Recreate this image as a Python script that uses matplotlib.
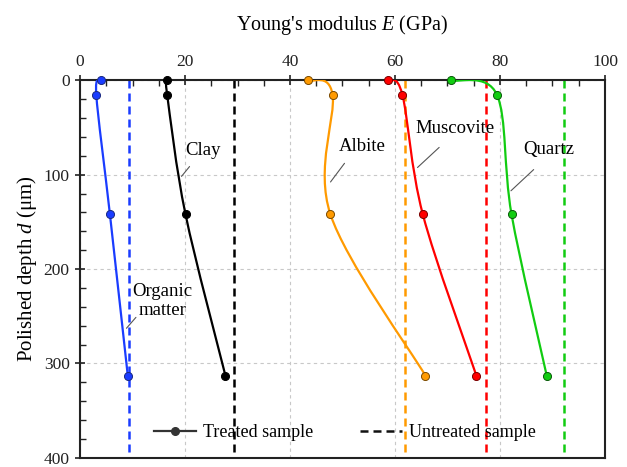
import numpy as np
import matplotlib
matplotlib.use("Agg")
import matplotlib.pyplot as plt
from matplotlib.path import Path
from matplotlib.patches import PathPatch
from matplotlib.lines import Line2D
from matplotlib.ticker import MultipleLocator

plt.rcParams['font.family'] = ['Liberation Serif', 'DejaVu Serif']
plt.rcParams['mathtext.fontset'] = 'custom'
plt.rcParams['mathtext.rm'] = 'Liberation Serif'
plt.rcParams['mathtext.it'] = 'Liberation Serif:italic'

# polished depth (um) of the treated-sample measurements
depth = [0, 15, 142, 313]

minerals = ["Organic matter", "Clay", "Albite", "Muscovite", "Quartz"]
organic = [4.0, 3.1, 5.7, 9.1]
clay = [16.6, 16.6, 20.1, 27.7]
albite = [43.5, 48.1, 47.7, 65.8]
muscovite = [58.7, 61.4, 65.3, 75.5]
quartz = [70.6, 79.4, 82.2, 88.9]
treated = [organic, clay, albite, muscovite, quartz]
untreated = [9.3, 29.3, 62.0, 77.3, 92.1]

colors = ['#1a3cff', '#000000', '#ff9a00', '#ff0000', '#11cc11']
edges = ['#1a2a80', '#000000', '#7a4a00', '#7a0000', '#0a5a0a']


def smooth_path(xs, ys):
    # Excel-like smoothed line: Catmull-Rom segments as cubic Beziers
    p = np.column_stack([xs, ys]).astype(float)
    n = len(p)
    verts = [p[0]]
    codes = [Path.MOVETO]
    for i in range(n - 1):
        prev = p[max(i - 1, 0)]
        nxt = p[min(i + 2, n - 1)]
        c1 = p[i] + (p[i + 1] - prev) / 6
        c2 = p[i + 1] - (nxt - p[i]) / 6
        verts += [c1, c2, p[i + 1]]
        codes += [Path.CURVE4] * 3
    return Path(verts, codes)


fig = plt.figure(figsize=(6.27, 4.67), dpi=100)
ax = fig.add_axes([0.1276, 0.02, 0.8373, 0.8077])

ax.set_xlim(0, 100)
ax.set_ylim(400, 0)

for vals, unt, c, ec in zip(treated, untreated, colors, edges):
    ax.add_patch(PathPatch(smooth_path(vals, depth), fill=False, edgecolor=c,
                           lw=1.6, zorder=3))
    ax.plot(vals, depth, ls='none', marker='o', ms=5.8, mfc=c, mec=ec,
            mew=0.7, zorder=5, clip_on=False)
    ax.plot([unt, unt], [0, 400], ls=(0, (3.2, 2.0)), color=c, lw=1.8,
            zorder=2)

# axes styling
ax.xaxis.tick_top()
ax.xaxis.set_label_position('top')
ax.xaxis.set_major_locator(MultipleLocator(20))
ax.xaxis.set_minor_locator(MultipleLocator(5))
ax.yaxis.set_major_locator(MultipleLocator(100))
ax.yaxis.set_minor_locator(MultipleLocator(20))
ax.tick_params(which='major', direction='inout', length=7, width=1.2,
               labelsize=12.5, colors='#222222', pad=4)
ax.tick_params(which='minor', direction='in', length=4, width=1.0,
               colors='#222222')
ax.tick_params(axis='x', which='both', bottom=False, top=True)
ax.tick_params(axis='y', which='both', left=True, right=False)
for s in ax.spines.values():
    s.set_linewidth(1.5)
    s.set_color('#222222')

ax.grid(True, which='major', ls=(0, (3, 3)), color='#c8c8c8', lw=0.8,
        zorder=0)

ax.set_xlabel("Young's modulus $E$ (GPa)", fontsize=14.5, labelpad=17)
ax.set_ylabel("Polished depth $d$ (μm)", fontsize=15, labelpad=3)

# mineral labels with leader lines
lead = dict(arrowstyle='-', color='#555555', lw=0.8)
fs = 13.5
ax.annotate('', xy=(19.0, 104), xytext=(21.2, 89), arrowprops=lead)
ax.text(23.5, 74, minerals[1], fontsize=fs, ha='center', va='center')
ax.annotate('', xy=(8.5, 265), xytext=(11.0, 249), arrowprops=lead)
ax.text(15.7, 234, "Organic\nmatter", fontsize=fs, ha='center', va='center',
        linespacing=1.1)
ax.annotate('', xy=(47.4, 110), xytext=(50.7, 85.5), arrowprops=lead)
ax.text(53.8, 70, minerals[2], fontsize=fs, ha='center', va='center')
ax.annotate('', xy=(63.9, 94.3), xytext=(68.8, 69), arrowprops=lead)
ax.text(71.4, 51, minerals[3], fontsize=fs, ha='center', va='center')
ax.annotate('', xy=(81.7, 119), xytext=(86.8, 92.5), arrowprops=lead)
ax.text(89.3, 73.5, minerals[4], fontsize=fs, ha='center', va='center')

handles = [
    Line2D([], [], color='#333333', lw=1.6, marker='o', ms=5.5,
           mfc='#333333', mec='#333333'),
    Line2D([], [], color='#111111', lw=1.8, ls=(0, (3.2, 2.0))),
]
ax.legend(handles, ["Treated sample", "Untreated sample"], loc='lower center',
          bbox_to_anchor=(0.505, 0.0), ncol=2, frameon=False, fontsize=13,
          handlelength=2.3, handletextpad=0.4, columnspacing=2.6)

fig.savefig("out.png", dpi=100)
